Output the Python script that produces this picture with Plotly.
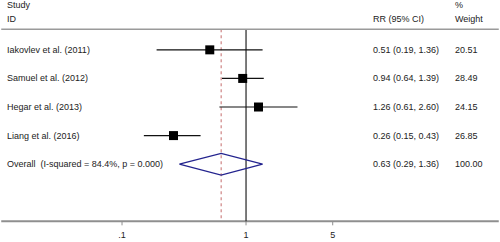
import plotly.graph_objects as go

studies = ["Iakovlev et al. (2011)", "Samuel et al. (2012)", "Hegar et al. (2013)", "Liang et al. (2016)"]
rr = [0.51, 0.94, 1.26, 0.26]
lo = [0.19, 0.64, 0.61, 0.15]
hi = [1.36, 1.39, 2.60, 0.43]
weights = ["20.51", "28.49", "24.15", "26.85"]
ci_text = ["0.51 (0.19, 1.36)", "0.94 (0.64, 1.39)", "1.26 (0.61, 2.60)", "0.26 (0.15, 0.43)"]

overall_label = "Overall  (I-squared = 84.4%, p = 0.000)"
overall_rr = 0.63
overall_lo = 0.29
overall_hi = 1.36
overall_text = "0.63 (0.29, 1.36)"
overall_weight = "100.00"

tick_vals = [0.1, 1, 5]
tick_text = [".1", "1", "5"]

rows = list(range(len(studies)))
overall_row = len(studies)

FONT = "Liberation Sans, Arial, sans-serif"
X_LOG_RANGE = [-1.984, 2.048]
x_left = 10 ** (X_LOG_RANGE[0] + 0.01)
x_right = 10 ** (X_LOG_RANGE[1] - 0.01)

top_row = -0.72
axis_row = 6.0
Y_TOP = -1.744
Y_BOTTOM = 6.723

fig = go.Figure()

def seg(xs, ys, color, width, dash="solid"):
    fig.add_trace(go.Scatter(x=xs, y=ys, mode="lines", line=dict(color=color, width=width, dash=dash),
                             hoverinfo="skip", showlegend=False))

# axis line
seg([x_left, x_right], [axis_row, axis_row], "#8f8f8f", 2)
# ticks
for tv in tick_vals:
    seg([tv, tv], [axis_row, axis_row + 0.14], "#8f8f8f", 1)
# reference lines
seg([1, 1], [top_row, axis_row], "#222222", 1.2)
seg([overall_rr, overall_rr], [top_row, axis_row], "#c46a6a", 1, "dot")

# CI lines
for i in rows:
    seg([lo[i], hi[i]], [i, i], "#111111", 1.2)
# squares
fig.add_trace(go.Scatter(x=rr, y=rows, mode="markers",
                         marker=dict(symbol="square", size=9, color="#000000", line=dict(width=0)),
                         showlegend=False))
# diamond
fig.add_trace(go.Scatter(x=[overall_lo, overall_rr, overall_hi, overall_rr, overall_lo],
                         y=[overall_row, overall_row - 0.38, overall_row, overall_row + 0.38, overall_row],
                         mode="lines", line=dict(color="#23238e", width=1.3), showlegend=False))
# tick labels
fig.add_trace(go.Scatter(x=tick_vals, y=[6.5] * len(tick_vals), mode="text", text=tick_text,
                         textfont=dict(family=FONT, size=9, color="#222222"), textposition="middle center",
                         hoverinfo="skip", showlegend=False))
# header rule (drawn last, on top)
seg([x_left, 0.1, 1, 5, x_right], [top_row] * 5, "#9a9a9a", 1.5)

ann = []
def txt(x, y, s, anchor="left"):
    ann.append(dict(x=x, y=y, xref="paper", yref="y", text=s, showarrow=False, xanchor=anchor,
                    yanchor="middle", font=dict(family=FONT, size=9, color="#222222")))

txt(5/500, -1.57, "Study")
txt(5/500, -1.08, "ID")
txt(371/500, -1.08, "RR (95% CI)")
txt(453/500, -1.57, "%")
txt(453/500, -1.08, "Weight")
for i in rows:
    txt(5/500, i, studies[i])
    txt(371/500, i, ci_text[i])
    txt(453/500, i, weights[i])
txt(5/500, overall_row, overall_label)
txt(371/500, overall_row, overall_text)
txt(453/500, overall_row, overall_weight)

fig.update_layout(
    width=500, height=242, margin=dict(l=0, r=0, t=0, b=0),
    plot_bgcolor="white", paper_bgcolor="white",
    annotations=ann,
    xaxis=dict(type="log", range=X_LOG_RANGE, showgrid=False, zeroline=False, showline=False,
               showticklabels=False, ticks=""),
    yaxis=dict(range=[Y_BOTTOM, Y_TOP], showgrid=False, zeroline=False, showticklabels=False,
               showline=False),
)

fig.write_html("out.html")
